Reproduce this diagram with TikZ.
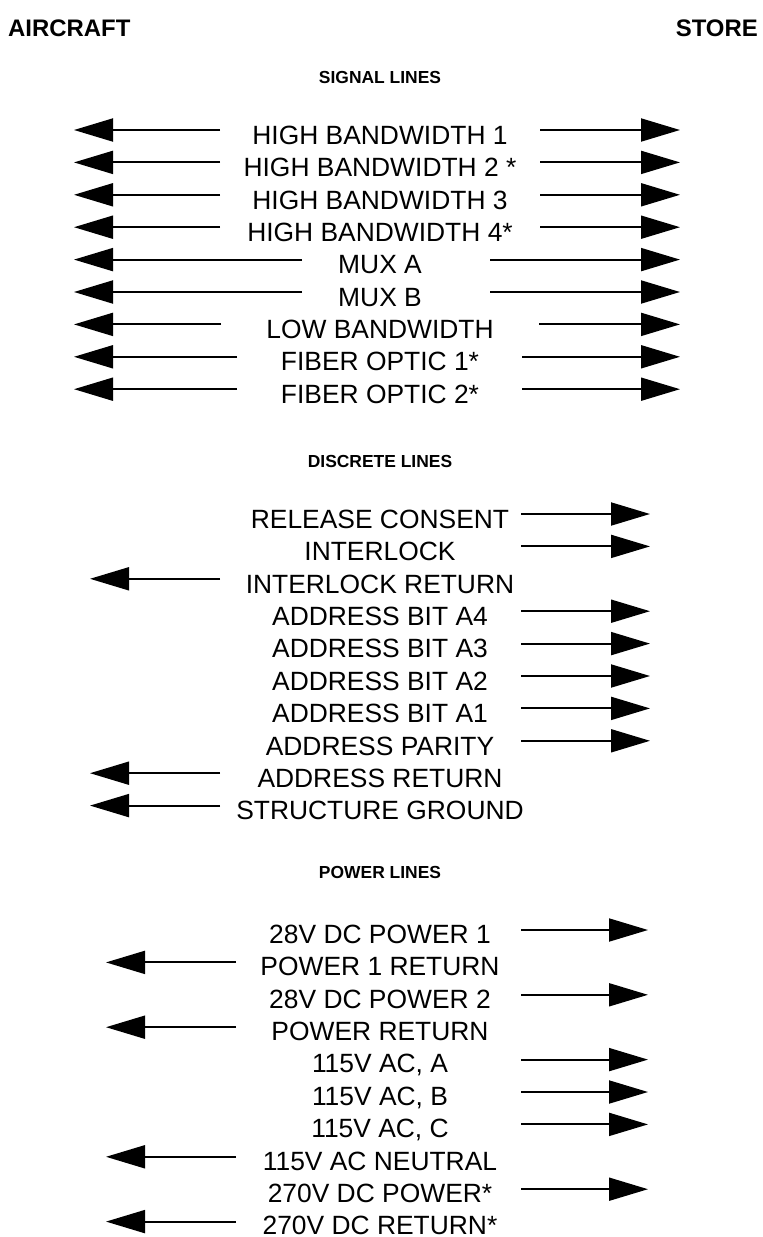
\documentclass[tikz,border=0pt]{standalone}
\usepackage{fontspec}
\setmainfont{Liberation Sans}
\usetikzlibrary{arrows.meta,positioning}

\begin{document}
\begin{tikzpicture}[x=1bp, y=-1bp,
  node distance=8bp,
  lbl/.style={inner sep=0pt, text height=14bp, text depth=10bp, font=\fontsize{26.5}{26.5}\selectfont},
  plbl/.style={lbl, node distance=16bp, text height=13bp, text depth=3bp},
  hdr/.style={inner sep=0pt, font=\bfseries\fontsize{17.5}{18}\selectfont},
  side/.style={inner sep=0pt, font=\bfseries\fontsize{24}{24}\selectfont},
  arr/.style={-{Triangle[length=39bp, width=23bp]}, line width=1.9bp}
]
  \useasboundingbox (0,0) rectangle (763,1237);

  \node[side, anchor=west] (ac) at (8,28) {AIRCRAFT};
  \node[side, anchor=east] (st) at (758,28) {STORE};

  \node[hdr] (sig) at (380,77) {SIGNAL LINES};
  \node[lbl, anchor=north] (hb1) at (380,130) {HIGH BANDWIDTH 1};
  \node[lbl, below=of hb1] (hb2) {HIGH BANDWIDTH 2 *};
  \node[lbl, below=of hb2] (hb3) {HIGH BANDWIDTH 3};
  \node[lbl, below=of hb3] (hb4) {HIGH BANDWIDTH 4*};
  \node[lbl, below=of hb4] (muxa) {MUX A};
  \node[lbl, below=of muxa] (muxb) {MUX B};
  \node[lbl, below=of muxb] (lowbw) {LOW BANDWIDTH};
  \node[lbl, below=of lowbw] (fo1) {FIBER OPTIC 1*};
  \node[lbl, below=of fo1] (fo2) {FIBER OPTIC 2*};

  \node[hdr] (disc) at (380,461) {DISCRETE LINES};
  \node[lbl, anchor=north] (rel) at (380,514) {RELEASE CONSENT};
  \node[lbl, below=of rel] (ilk) {INTERLOCK};
  \node[lbl, below=of ilk] (ilkret) {INTERLOCK RETURN};
  \node[lbl, below=of ilkret] (a4) {ADDRESS BIT A4};
  \node[lbl, below=of a4] (a3) {ADDRESS BIT A3};
  \node[lbl, below=of a3] (a2) {ADDRESS BIT A2};
  \node[lbl, below=of a2] (a1) {ADDRESS BIT A1};
  \node[lbl, below=of a1] (par) {ADDRESS PARITY};
  \node[lbl, below=of par] (addrret) {ADDRESS RETURN};
  \node[lbl, below=of addrret] (gnd) {STRUCTURE GROUND};

  \node[hdr] (pwr) at (380,872) {POWER LINES};
  \node[plbl, anchor=north] (dc1) at (380,930) {28V DC POWER 1};
  \node[plbl, below=of dc1] (dc1ret) {POWER 1 RETURN};
  \node[plbl, below=of dc1ret] (dc2) {28V DC POWER 2};
  \node[plbl, below=of dc2] (dc2ret) {POWER RETURN};
  \node[plbl, below=of dc2ret] (aca) {115V AC, A};
  \node[plbl, below=of aca] (acb) {115V AC, B};
  \node[plbl, below=of acb] (acc) {115V AC, C};
  \node[plbl, below=of acc] (acn) {115V AC NEUTRAL};
  \node[plbl, below=of acn] (hv) {270V DC POWER*};
  \node[plbl, below=of hv] (hvret) {270V DC RETURN*};

  \coordinate (sigl) at (74,0);
  \coordinate (sigr) at (680,0);
  \coordinate (hbl) at (220,0);
  \coordinate (hbr) at (540,0);
  \coordinate (muxl) at (302,0);
  \coordinate (muxr) at (490,0);
  \coordinate (lowl) at (221,0);
  \coordinate (lowr) at (539,0);
  \coordinate (fol) at (237,0);
  \coordinate (forr) at (522,0);
  \coordinate (disl) at (90,0);
  \coordinate (disli) at (220,0);
  \coordinate (disri) at (521,0);
  \coordinate (disr) at (650,0);
  \coordinate (powl) at (106,0);
  \coordinate (powli) at (236,0);
  \coordinate (powri) at (521,0);
  \coordinate (powr) at (648,0);

  \draw[arr] (hb1.north -| hbl) -- (hb1.north -| sigl);
  \draw[arr] (hb1.north -| hbr) -- (hb1.north -| sigr);
  \draw[arr] (hb2.north -| hbl) -- (hb2.north -| sigl);
  \draw[arr] (hb2.north -| hbr) -- (hb2.north -| sigr);
  \draw[arr] (hb3.north -| hbl) -- (hb3.north -| sigl);
  \draw[arr] (hb3.north -| hbr) -- (hb3.north -| sigr);
  \draw[arr] (hb4.north -| hbl) -- (hb4.north -| sigl);
  \draw[arr] (hb4.north -| hbr) -- (hb4.north -| sigr);
  \draw[arr] (muxa.north -| muxl) -- (muxa.north -| sigl);
  \draw[arr] (muxa.north -| muxr) -- (muxa.north -| sigr);
  \draw[arr] (muxb.north -| muxl) -- (muxb.north -| sigl);
  \draw[arr] (muxb.north -| muxr) -- (muxb.north -| sigr);
  \draw[arr] (lowbw.north -| lowl) -- (lowbw.north -| sigl);
  \draw[arr] (lowbw.north -| lowr) -- (lowbw.north -| sigr);
  \draw[arr] (fo1.north -| fol) -- (fo1.north -| sigl);
  \draw[arr] (fo1.north -| forr) -- (fo1.north -| sigr);
  \draw[arr] (fo2.north -| fol) -- (fo2.north -| sigl);
  \draw[arr] (fo2.north -| forr) -- (fo2.north -| sigr);

  \draw[arr] (rel.north -| disri) -- (rel.north -| disr);
  \draw[arr] (ilk.north -| disri) -- (ilk.north -| disr);
  \draw[arr] (ilkret.north -| disli) -- (ilkret.north -| disl);
  \draw[arr] (a4.north -| disri) -- (a4.north -| disr);
  \draw[arr] (a3.north -| disri) -- (a3.north -| disr);
  \draw[arr] (a2.north -| disri) -- (a2.north -| disr);
  \draw[arr] (a1.north -| disri) -- (a1.north -| disr);
  \draw[arr] (par.north -| disri) -- (par.north -| disr);
  \draw[arr] (addrret.north -| disli) -- (addrret.north -| disl);
  \draw[arr] (gnd.north -| disli) -- (gnd.north -| disl);

  \draw[arr] (dc1.north -| powri) -- (dc1.north -| powr);
  \draw[arr] (dc1ret.north -| powli) -- (dc1ret.north -| powl);
  \draw[arr] (dc2.north -| powri) -- (dc2.north -| powr);
  \draw[arr] (dc2ret.north -| powli) -- (dc2ret.north -| powl);
  \draw[arr] (aca.north -| powri) -- (aca.north -| powr);
  \draw[arr] (acb.north -| powri) -- (acb.north -| powr);
  \draw[arr] (acc.north -| powri) -- (acc.north -| powr);
  \draw[arr] (acn.north -| powli) -- (acn.north -| powl);
  \draw[arr] (hv.north -| powri) -- (hv.north -| powr);
  \draw[arr] (hvret.north -| powli) -- (hvret.north -| powl);
\end{tikzpicture}
\end{document}
